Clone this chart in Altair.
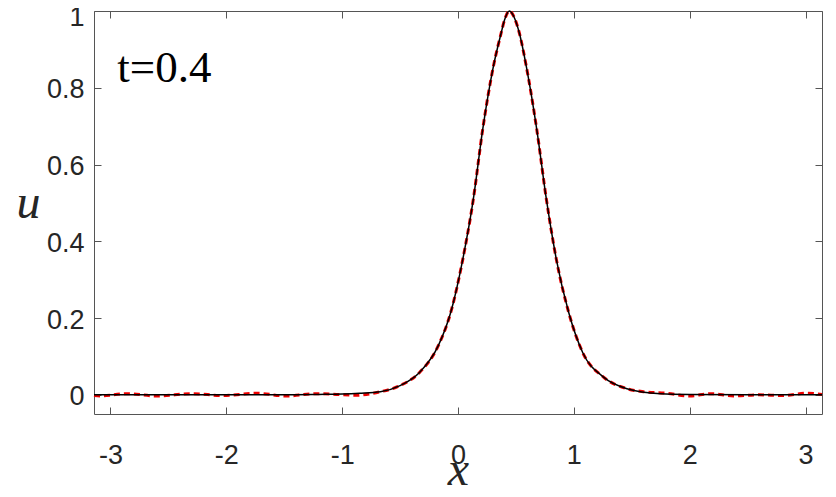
import altair as alt
import pandas as pd

# exact solution (black solid)
exact_x = [-3.1416, -2.5, -2.0, -1.5, -1.2, -1.0, -0.85, -0.67, -0.5, -0.33, -0.17, -0.055,
           0.04, 0.132, 0.213, 0.305, 0.372, 0.40, 0.443, 0.49, 0.53, 0.59, 0.68, 0.763,
           0.85, 0.955, 1.075, 1.256, 1.458, 1.746, 2.0, 2.5, 3.1416]
exact_u = [0.0, 0.0, 0.0, 0.0, 0.001, 0.002, 0.004, 0.008, 0.024, 0.059, 0.128, 0.223,
           0.351, 0.509, 0.691, 0.855, 0.942, 0.975, 1.0, 0.98, 0.942, 0.855, 0.691, 0.509,
           0.351, 0.215, 0.111, 0.046, 0.016, 0.003, 0.001, 0.0, 0.0]

# numerical solution (red dashed)
num_x = [-3.1416, -3.09, -2.86, -2.60, -2.29, -2.03, -1.74, -1.48, -1.22, -0.875, -0.67, -0.5,
         -0.33, -0.17, -0.055, 0.04, 0.132, 0.213, 0.305, 0.372, 0.40, 0.443, 0.49, 0.53,
         0.59, 0.68, 0.763, 0.85, 0.955, 1.075, 1.256, 1.458, 1.6, 1.80, 2.0, 2.18, 2.38,
         2.6, 2.8, 3.01, 3.1416]
num_u = [-0.002, -0.003, 0.003, -0.003, 0.003, -0.002, 0.004, -0.003, 0.003, -0.001, 0.008, 0.024,
         0.059, 0.128, 0.223, 0.351, 0.509, 0.691, 0.855, 0.942, 0.975, 1.0, 0.98, 0.942,
         0.855, 0.691, 0.509, 0.351, 0.215, 0.111, 0.046, 0.016, 0.008, 0.004, -0.003, 0.003, -0.003,
         0.0, -0.002, 0.004, 0.001]

label_x = [-2.94]
label_u = [0.816]
label_text = ["t=0.4"]

x_ticks = [-3, -2, -1, 0, 1, 2, 3]
y_ticks = [0, 0.2, 0.4, 0.6, 0.8, 1]

exact_df = pd.DataFrame({"x": exact_x, "u": exact_u})
num_df = pd.DataFrame({"x": num_x, "u": num_u})
lab_df = pd.DataFrame({"x": label_x, "u": label_u, "t": label_text})

xscale = alt.Scale(domain=[-3.1416, 3.1416], nice=False, zero=False)
yscale = alt.Scale(domain=[-0.05, 1], nice=False, zero=False)

TICK = 7
axis_common = dict(
    grid=False, domain=False, tickSize=TICK, offset=-TICK, tickColor="#555555",
    tickWidth=1, labelFont="Liberation Sans", labelFontSize=27, labelColor="#262626",
    titleFont="Liberation Serif", titleFontStyle="italic", titleFontWeight="normal",
    titleFontSize=48, titleColor="#262626",
)

x_axis = alt.Axis(values=x_ticks, orient="bottom", labelPadding=28,
                  labelExpr="datum.value < 0 ? '-' + (-datum.value) : '' + datum.value",
                  title="x", titlePadding=-22, **axis_common)
y_axis = alt.Axis(values=y_ticks, orient="left", labelPadding=10,
                  labelExpr="format(datum.value, '~g')",
                  labelOffset={"condition": {"test": "datum.value == 1", "value": 6}, "value": 2},
                  title="u", titleAngle=0, titleAlign="center", titleBaseline="middle",
                  titleX=-73, titleY=192, **axis_common)

x_axis_top = alt.Axis(values=x_ticks, orient="top", labels=False, title=None,
                      grid=False, domain=False, tickSize=TICK, offset=-TICK,
                      tickColor="#555555", tickWidth=1)
y_axis_right = alt.Axis(values=y_ticks, orient="right", labels=False, title=None,
                        grid=False, domain=False, tickSize=TICK, offset=-TICK,
                        tickColor="#555555", tickWidth=1)

red = alt.Chart(num_df).mark_line(
    color="#ee0000", strokeWidth=3, strokeDash=[6, 4], interpolate="monotone"
).encode(
    x=alt.X("x:Q", scale=xscale, axis=x_axis),
    y=alt.Y("u:Q", scale=yscale, axis=y_axis),
)

black = alt.Chart(exact_df).mark_line(
    color="black", strokeWidth=1.5, interpolate="monotone"
).encode(
    x=alt.X("x:Q", scale=xscale, axis=x_axis_top),
    y=alt.Y("u:Q", scale=yscale, axis=y_axis_right),
)

label = alt.Chart(lab_df).mark_text(
    font="Liberation Serif", fontSize=45, align="left", baseline="alphabetic", color="black"
).encode(
    x=alt.X("x:Q", scale=xscale, axis=None),
    y=alt.Y("u:Q", scale=yscale, axis=None),
    text="t:N",
)

chart = alt.layer(red, black, label).resolve_axis(
    x="independent", y="independent"
).properties(
    width=728, height=403,
    autosize=alt.AutoSizeParams(type="none"),
    padding={"left": 86, "top": 3, "right": 6, "bottom": 75},
    background="white",
).configure_view(
    stroke="#555555", strokeWidth=1
)

chart.save("out.html", embed_options={"renderer": "svg", "actions": False})
